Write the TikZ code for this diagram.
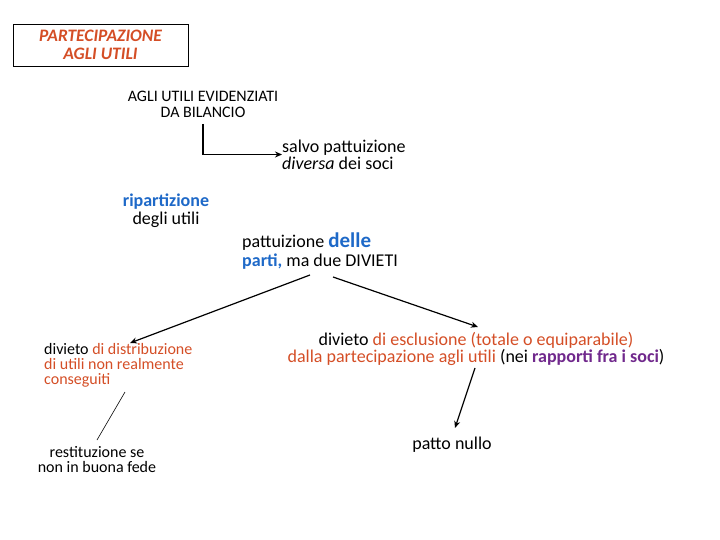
\documentclass[tikz,border=0pt]{standalone}
\usepackage{fontspec}
\setmainfont{Carlito}
\usetikzlibrary{arrows.meta}
\definecolor{ored}{RGB}{212,78,38}
\definecolor{cblue}{RGB}{30,105,200}
\definecolor{cpurp}{RGB}{112,40,140}
\tikzset{
  txt/.style={inner sep=0pt, align=center, font=\fontsize{18}{17}\selectfont},
  conn/.style={draw, line width=1.2pt, -{Stealth[length=7pt,width=6pt]}},
}
\begin{document}
\begin{tikzpicture}[x=1pt,y=-1pt]
\useasboundingbox (0,0) rectangle (720,540);
\node[draw, line width=0.6pt, minimum width=175pt, minimum height=42pt, inner sep=0pt,
  font=\fontsize{17.5}{17.5}\selectfont\bfseries\itshape, text=ored, align=center] (box) at (100.5,45) {PARTECIPAZIONE\\AGLI UTILI};
\node[txt, font=\fontsize{16}{16}\selectfont] (agli) at (203,104) {AGLI UTILI EVIDENZIATI\\DA BILANCIO};
\coordinate (e0) at (203,124);
\node[txt, align=left, anchor=west, font=\fontsize{18}{17}\selectfont] (salvo) at (282,154.5) {salvo pattuizione\\\textit{diversa} dei soci};
\draw[line width=1.2pt, -{Stealth[length=7pt,width=6pt]}] (e0) |- (salvo.west);
\node[txt, font=\fontsize{18}{18}\selectfont] (rip) at (166,211) {\textcolor{cblue}{\bfseries ripartizione}\\degli utili};
\node[txt, align=left, anchor=west, font=\fontsize{18}{19}\selectfont] (patt) at (242,251.5) {pattuizione \textcolor{cblue}{\bfseries\fontsize{21}{19}\selectfont delle}\\\textcolor{cblue}{\bfseries parti,} ma due DIVIETI};
\coordinate (pl) at (310,275);
\coordinate (pr) at (333,277);
\node[txt, align=left, anchor=west, font=\fontsize{16}{15}\selectfont] (dist) at (44,365) {divieto \textcolor{ored}{di distribuzione}\\\textcolor{ored}{di utili non realmente}\\\textcolor{ored}{conseguiti}};
\node[txt, font=\fontsize{18}{17}\selectfont] (escl) at (476,349) {divieto \textcolor{ored}{di esclusione (totale o equiparabile)}\\\textcolor{ored}{dalla partecipazione agli utili} (nei \textcolor{cpurp}{\bfseries rapporti fra i soci})};
\coordinate (d1) at (130,343);
\coordinate (e1) at (478,327);
\draw[conn] (pl) -- (d1);
\draw[conn] (pr) -- (e1);
\node[txt, font=\fontsize{16}{15}\selectfont] (rest) at (97,459.5) {restituzione se\\non in buona fede};
\coordinate (l0) at (125,392);
\coordinate (l1) at (97,440);
\draw[line width=0.6pt] (l0) -- (l1);
\node[txt, font=\fontsize{18}{17}\selectfont] (nullo) at (452,444.5) {patto nullo};
\coordinate (n0) at (475,368);
\coordinate (n1) at (455,428);
\draw[conn] (n0) -- (n1);
\end{tikzpicture}
\end{document}
